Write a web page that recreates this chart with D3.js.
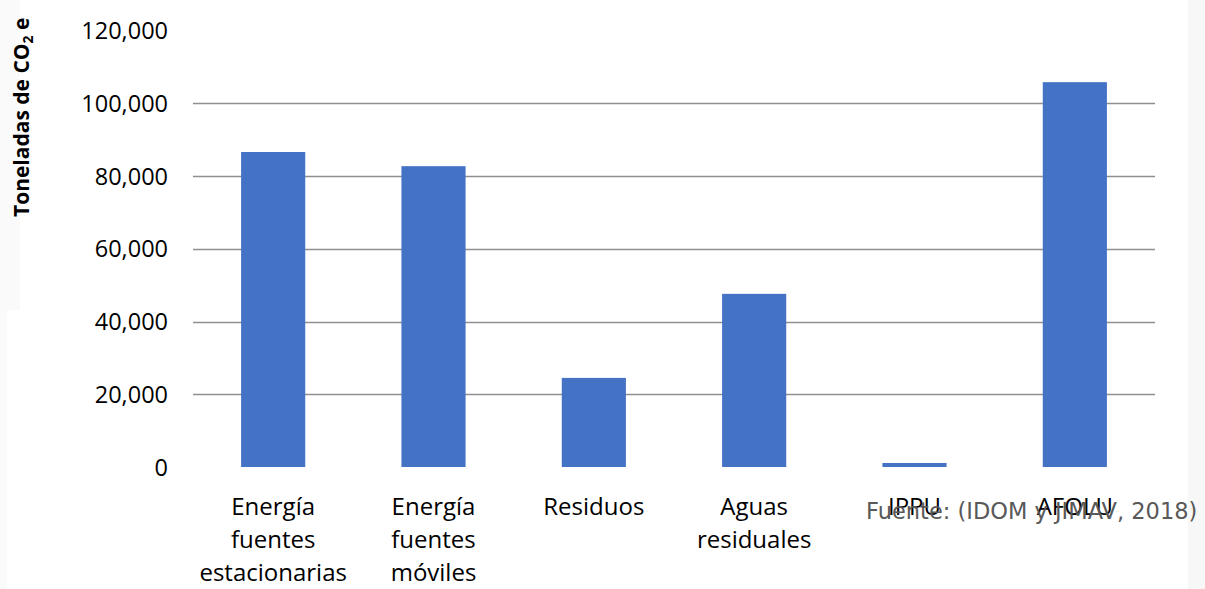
<!DOCTYPE html>
<html>
<head>
<meta charset="utf-8">
<script src="https://cdn.jsdelivr.net/npm/d3@7"></script>
<style>
  html, body { margin: 0; padding: 0; background: #fff; }
  svg { display: block; }
</style>
</head>
<body>
<svg id="chart" width="1205" height="589"></svg>
<script>
const categories = [
  ["Energía", "fuentes", "estacionarias"],
  ["Energía", "fuentes", "móviles"],
  ["Residuos"],
  ["Aguas", "residuales"],
  ["IPPU"],
  ["AFOLU"]
];
const values = [86600, 82700, 24500, 47600, 1100, 105800];
const yTicks = [0, 20000, 40000, 60000, 80000, 100000, 120000];
const yTitle = ["Toneladas de CO", "2", " e"];
const sourceText = "Fuente: (IDOM y JIMAV, 2018)";

const svg = d3.select("#chart");
const W = 1205, H = 589;

// subtle background slide edges
svg.append("rect").attr("x", 0).attr("y", 0).attr("width", W).attr("height", H).attr("fill", "#fff");
svg.append("rect").attr("x", 1188).attr("y", 0).attr("width", 17).attr("height", H).attr("fill", "#f7f7f7");
svg.append("rect").attr("x", 0).attr("y", 0).attr("width", 7).attr("height", H).attr("fill", "#fafafa");
svg.append("rect").attr("x", 0).attr("y", 0).attr("width", 20).attr("height", 310).attr("fill", "#fafafa");

const x = d3.scaleBand()
  .domain(categories.map((d, i) => i))
  .range([193, 1155])
  .paddingInner(0.6)
  .paddingOuter(0.3);

const y = d3.scaleLinear().domain([0, 120000]).range([467, 30.5]);

// gridlines
svg.append("g")
  .selectAll("line")
  .data(yTicks.filter(t => t > 0 && t < 120000))
  .join("line")
  .attr("x1", 193).attr("x2", 1155)
  .attr("y1", d => Math.round(y(d)) + 0.5).attr("y2", d => Math.round(y(d)) + 0.5)
  .attr("stroke", "#8f8f8f").attr("stroke-width", 1.3);

// y axis labels
const yAxis = d3.axisLeft(y).tickValues(yTicks).tickSize(0).tickPadding(0)
  .tickFormat(d3.format(","));
const gy = svg.append("g").attr("transform", "translate(168,0)").call(yAxis);
gy.select(".domain").remove();
gy.selectAll("text")
  .attr("font-family", "'Open Sans', sans-serif")
  .attr("font-size", 23.5)
  .attr("fill", "#000")
  .attr("dy", "0.34em");

// bars
svg.append("g")
  .selectAll("rect")
  .data(values)
  .join("rect")
  .attr("x", (d, i) => x(i))
  .attr("width", x.bandwidth())
  .attr("y", d => y(d))
  .attr("height", d => y(0) - y(d))
  .attr("fill", "#4472C4");

// x labels
const gx = svg.append("g");
categories.forEach((lines, i) => {
  const cx = x(i) + x.bandwidth() / 2;
  const t = gx.append("text")
    .attr("x", cx).attr("y", 515)
    .attr("text-anchor", "middle")
    .attr("font-family", "'Open Sans', sans-serif")
    .attr("font-size", 24)
    .attr("fill", "#000");
  lines.forEach((ln, j) => {
    t.append("tspan").attr("x", cx).attr("y", 515 + j * 33).text(ln);
  });
});

// y title
const yt = svg.append("text")
  .attr("transform", "translate(29,217) rotate(-90)")
  .attr("font-family", "'Open Sans', sans-serif")
  .attr("font-weight", "bold")
  .attr("font-size", 21)
  .attr("fill", "#000");
yt.append("tspan").text(yTitle[0]);
yt.append("tspan").attr("font-size", 14).attr("dy", 4).text(yTitle[1]);
yt.append("tspan").attr("dy", -4).text(yTitle[2]);

// source
svg.append("text")
  .attr("x", 866).attr("y", 519)
  .attr("font-family", "'DejaVu Sans', Verdana, sans-serif")
  .attr("font-size", 22.5)
  .attr("fill", "#595959")
  .text(sourceText);
</script>
</body>
</html>
